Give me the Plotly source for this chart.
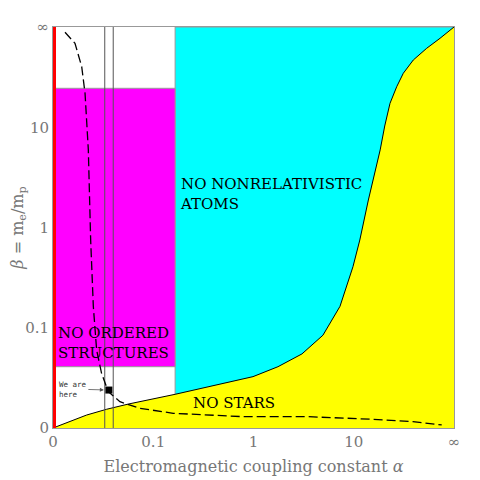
import numpy as np
import plotly.graph_objects as go

inf = np.inf

# ---- data (log10 of alpha and beta; -inf means 0, +inf means infinity) ----
tick_log_values = [-inf, -1, 0, 1, inf]
tick_labels = ["0", "0.1", "1", "10", "∞"]

# boundary of the "no stars" region
stars_log_alpha = [-inf, -9.28, -3.70, -2.24, -1.49, -0.705, -0.106, -0.004, 0.194, 0.399,
                   0.605, 0.805, 0.988, 1.10, 1.26, 1.41, 1.532, 1.658, 1.824, 2.076,
                   2.383, 3.028, 4.6, 9.09, inf]
stars_log_beta = [-inf, -24.1, -9.79, -6.77, -5.26, -3.70, -2.54, -2.35, -1.92, -1.525,
                  -1.124, -0.71, -0.317, -0.098, 0.219, 0.484, 0.696, 1.02, 1.467, 1.979,
                  2.636, 3.78, 5.94, 11.26, inf]

# dashed curve
dash_log_alpha = [-10.6, -5.75, -4.37, -3.90, -3.52, -3.29, -3.06, -2.81, -2.50, -2.16,
                  -1.73, -1.23, -0.727, -0.106, 0.443, 1.356, 3.0, 10.35]
dash_log_beta = [24.1, 7.79, 3.11, 1.75, 0.696, -0.098, -0.71, -1.43, -2.19, -3.42,
                 -4.78, -6.43, -8.65, -11.1, -11.2, -14.6, -20.3, -42.0]

# "no ordered structures" box
ordered_log_alpha = [-inf, -0.705]
ordered_log_beta = [-1.92, 1.92]

# "no nonrelativistic atoms" region starts at
atoms_log_alpha_min = -0.705

# vertical bracketing lines
bracket_log_alpha = [-2.33, -1.96]

# our universe: alpha = 1/137, beta = 1/1836
here_alpha = 1 / 137.0
here_beta = 1 / 1836.0


def tr(logv):
    return np.arctan(np.asarray(logv, dtype=float)) * 2 / np.pi


fig = go.Figure()

# cyan region
a0, a1 = tr([atoms_log_alpha_min, inf])
b0, b1 = tr([-inf, inf])
fig.add_trace(go.Scatter(x=[a0, a1, a1, a0, a0], y=[b0, b0, b1, b1, b0], mode="lines",
                         fill="toself", fillcolor="#00ffff", line=dict(color="#999999", width=1),
                         hoverinfo="skip"))

# magenta region
ma0, ma1 = tr(ordered_log_alpha)
mb0, mb1 = tr(ordered_log_beta)
fig.add_trace(go.Scatter(x=[ma0, ma1, ma1, ma0, ma0], y=[mb0, mb0, mb1, mb1, mb0], mode="lines",
                         fill="toself", fillcolor="#ff00ff", line=dict(color="#999999", width=1),
                         hoverinfo="skip"))

# yellow region under the stars curve
sx = list(tr(stars_log_alpha))
sy = list(tr(stars_log_beta))
fig.add_trace(go.Scatter(x=sx + [tr(inf), tr(-inf)], y=sy + [tr(-inf), tr(-inf)], mode="lines",
                         fill="toself", fillcolor="#ffff00", line=dict(width=0),
                         hoverinfo="skip"))
fig.add_trace(go.Scatter(x=sx, y=sy, mode="lines", line=dict(color="black", width=1),
                         hoverinfo="skip"))

# vertical bracketing lines
for la in bracket_log_alpha:
    xv = float(tr(la))
    fig.add_trace(go.Scatter(x=[xv, xv], y=[b0, b1], mode="lines",
                             line=dict(color="#555555", width=1), hoverinfo="skip"))

# dashed curve
fig.add_trace(go.Scatter(x=tr(dash_log_alpha), y=tr(dash_log_beta), mode="lines",
                         line=dict(color="black", width=1.3, dash="9px,4px"), hoverinfo="skip"))

# red line at alpha = 0
fig.add_trace(go.Scatter(x=[tr(-inf), tr(-inf)], y=[b0, b1], mode="lines",
                         line=dict(color="#ff0000", width=6), hoverinfo="skip"))

# we are here
hx = float(tr(np.log10(here_alpha)))
hy = float(tr(np.log10(here_beta)))
fig.add_trace(go.Scatter(x=[hx], y=[hy], mode="markers",
                         marker=dict(symbol="square", size=7, color="black"), hoverinfo="skip"))

label_font = dict(family="DejaVu Serif", size=15, color="black")
fig.add_annotation(x=hx, y=hy, xref="x", yref="y", text="We are<br>here", showarrow=True,
                   ax=-36, ay=-1, arrowhead=2, arrowsize=1, arrowwidth=0.8, arrowcolor="#555555",
                   standoff=5, align="left",
                   font=dict(family="DejaVu Sans Mono", size=7.5, color="#333333"))
fig.add_annotation(x=0.312, y=0.584, xref="paper", yref="paper", xanchor="left", yanchor="middle",
                   align="left", showarrow=False, text="NO NONRELATIVISTIC<br>ATOMS", font=label_font)
fig.add_annotation(x=0.008, y=0.213, xref="paper", yref="paper", xanchor="left", yanchor="middle",
                   align="left", showarrow=False, text="NO ORDERED<br>STRUCTURES", font=label_font)
fig.add_annotation(x=0.345, y=0.062, xref="paper", yref="paper", xanchor="left", yanchor="middle",
                   align="left", showarrow=False, text="NO STARS", font=label_font)

tick_font = dict(family="DejaVu Serif", size=15, color="#777777")
axis_common = dict(range=[-1, 1], showgrid=False, zeroline=False, ticks="", automargin=False,
                   showline=True, mirror=True, linecolor="#999999", linewidth=1,
                   tickmode="array", tickvals=list(tr(tick_log_values)), ticktext=tick_labels,
                   tickfont=tick_font)
fig.update_xaxes(**axis_common,
                 title=dict(text="Electromagnetic coupling constant <i>α</i>",
                            font=dict(family="DejaVu Serif", size=16, color="#777777"), standoff=10))
fig.update_yaxes(**axis_common,
                 title=dict(text="<i>β</i> = m<sub>e</sub>/m<sub>p</sub>",
                            font=dict(family="DejaVu Serif", size=16, color="#777777"), standoff=10))

# the page adds an 8px body margin, so the figure is 472px and margins are offset by 8px
fig.update_layout(width=472, height=472, showlegend=False,
                  margin=dict(l=45, r=26, t=19, b=52),
                  plot_bgcolor="white", paper_bgcolor="white")

fig.write_html("out.html")
